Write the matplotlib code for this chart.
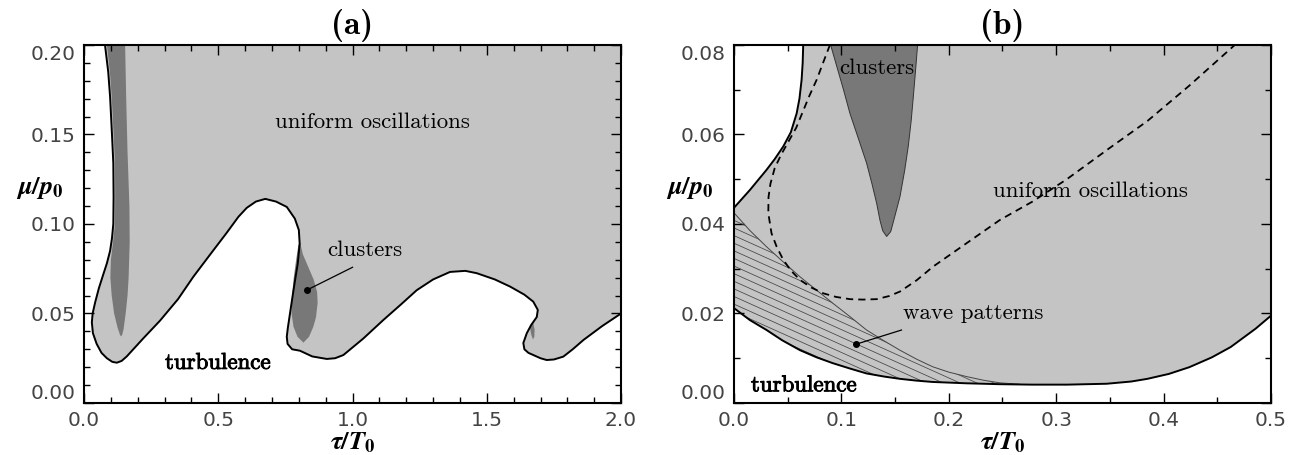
import numpy as np
import matplotlib.pyplot as plt
import matplotlib.patheffects as pe
from matplotlib.patches import Polygon
from matplotlib.ticker import MultipleLocator, FormatStrFormatter

plt.rcParams['mathtext.fontset'] = 'custom'
plt.rcParams['mathtext.it'] = 'STIXGeneral:italic:bold'
plt.rcParams['mathtext.rm'] = 'STIXGeneral:bold'
plt.rcParams['mathtext.bf'] = 'STIXGeneral:bold'

LIGHT = '#c4c4c4'
DARK = '#787878'

# ---------- panel (a) ----------
A_XLIM = (0.0, 2.0)
A_YLIM = (0.0, 0.2)

# turbulence / oscillation boundary (top-left -> right edge)
a_bx = [0.078, 0.090, 0.097, 0.104, 0.109, 0.110, 0.109, 0.104, 0.097, 0.085,
        0.072, 0.055, 0.041, 0.032, 0.029, 0.033, 0.047, 0.065, 0.085, 0.105,
        0.122, 0.140, 0.159, 0.220, 0.283, 0.350, 0.407, 0.470, 0.531, 0.575,
        0.606, 0.640, 0.675, 0.715, 0.755, 0.785, 0.800, 0.803, 0.796, 0.786,
        0.776, 0.767, 0.759, 0.755, 0.758, 0.775, 0.804, 0.850, 0.904, 0.935,
        0.966, 1.040, 1.115, 1.180, 1.239, 1.300, 1.363, 1.420, 1.4625, 1.530,
        1.587, 1.640, 1.673, 1.690, 1.686, 1.665, 1.649, 1.636, 1.640, 1.655,
        1.673, 1.700, 1.723, 1.750, 1.785, 1.820, 1.860, 1.930, 2.000]
a_by = [0.200, 0.185, 0.171, 0.150, 0.134, 0.115, 0.100, 0.092, 0.085, 0.078,
        0.072, 0.064, 0.056, 0.050, 0.045, 0.039, 0.033, 0.028, 0.025, 0.023,
        0.0225, 0.0235, 0.026, 0.036, 0.046, 0.058, 0.0705, 0.083, 0.095, 0.104,
        0.109, 0.1125, 0.114, 0.1125, 0.1095, 0.103, 0.0966, 0.089, 0.078, 0.0687,
        0.059, 0.050, 0.042, 0.037, 0.033, 0.030, 0.0292, 0.026, 0.0246, 0.025,
        0.0268, 0.036, 0.0464, 0.055, 0.063, 0.069, 0.0732, 0.0738, 0.0725, 0.069,
        0.065, 0.0605, 0.0566, 0.052, 0.048, 0.0435, 0.039, 0.0335, 0.030, 0.028,
        0.0268, 0.025, 0.024, 0.0243, 0.0259, 0.030, 0.0352, 0.043, 0.050]

# cluster regions
a_c1x = [0.085, 0.096, 0.103, 0.110, 0.115, 0.116, 0.115, 0.108, 0.100, 0.098,
         0.103, 0.112, 0.125, 0.134, 0.138, 0.142, 0.147, 0.155, 0.162, 0.166,
         0.170, 0.169, 0.162, 0.157, 0.153]
a_c1y = [0.200, 0.185, 0.171, 0.150, 0.134, 0.115, 0.100, 0.090, 0.080, 0.070,
         0.060, 0.050, 0.042, 0.038, 0.0372, 0.038, 0.041, 0.050, 0.060, 0.070,
         0.090, 0.110, 0.140, 0.170, 0.200]
a_c2x = [0.804, 0.815, 0.835, 0.855, 0.868, 0.870, 0.864, 0.854, 0.838, 0.817,
         0.795, 0.780, 0.773, 0.775, 0.781, 0.790, 0.798]
a_c2y = [0.090, 0.083, 0.076, 0.069, 0.062, 0.056, 0.048, 0.0426, 0.037, 0.0337,
         0.037, 0.0426, 0.050, 0.060, 0.070, 0.080, 0.088]
a_c3x = [1.672, 1.678, 1.677, 1.672, 1.666, 1.660]
a_c3y = [0.0455, 0.041, 0.037, 0.0355, 0.038, 0.0425]

a_cl_dot = (0.829, 0.063)
a_cl_end = (1.000, 0.0758)
a_cl_text = (1.046, 0.0855)
a_uo_text = (1.073, 0.1567)
a_tu_text = (0.498, 0.0223)

# ---------- panel (b) ----------
B_XLIM = (0.0, 0.5)
B_YLIM = (0.0, 0.08)

b_ux = [0.0645, 0.0640, 0.0630, 0.0610, 0.0584, 0.0530, 0.0459, 0.0380, 0.0304,
        0.0149, 0.0]
b_uy = [0.080, 0.076, 0.0722, 0.068, 0.0647, 0.0605, 0.0573, 0.0545, 0.0521,
        0.0476, 0.0436]

b_lx = [0.0, 0.015, 0.0304, 0.045, 0.0615, 0.077, 0.092, 0.108, 0.1235, 0.140,
        0.1545, 0.170, 0.185, 0.2166, 0.2477, 0.278, 0.310, 0.347, 0.370, 0.385,
        0.405, 0.424, 0.445, 0.4625, 0.4857, 0.500]
b_ly = [0.0212, 0.0185, 0.0163, 0.0140, 0.0118, 0.0102, 0.0089, 0.0077, 0.0066,
        0.0059, 0.0054, 0.0050, 0.0047, 0.0044, 0.0042, 0.0041, 0.0041, 0.0043,
        0.0048, 0.0054, 0.0065, 0.0080, 0.0102, 0.0125, 0.0166, 0.0195]

# upper edge of wave pattern region
b_hx = [0.0, 0.015, 0.0304, 0.046, 0.0615, 0.077, 0.092, 0.108, 0.1235, 0.139,
        0.1545, 0.170, 0.185, 0.200, 0.2166, 0.232, 0.2477, 0.266]
b_hy = [0.0425, 0.0385, 0.0349, 0.0315, 0.0282, 0.0252, 0.0223, 0.0193, 0.0163,
        0.0140, 0.0118, 0.0098, 0.0081, 0.0069, 0.0059, 0.0051, 0.0045, 0.0042]

# dashed curve
b_dx = [0.0894, 0.083, 0.077, 0.070, 0.064, 0.058, 0.051, 0.044, 0.038, 0.034,
        0.0322, 0.032, 0.035, 0.0398, 0.0459, 0.053, 0.0615, 0.072, 0.0832,
        0.095, 0.108, 0.120, 0.1329, 0.1446, 0.1546, 0.170, 0.1856, 0.2166,
        0.2477, 0.278, 0.310, 0.350, 0.385, 0.424, 0.4664]
b_dy = [0.080, 0.076, 0.0722, 0.0685, 0.065, 0.0615, 0.0585, 0.0555, 0.0525,
        0.049, 0.046, 0.0424, 0.0379, 0.0349, 0.032, 0.0296, 0.0275, 0.0258,
        0.0245, 0.0237, 0.0232, 0.0231, 0.0232, 0.0239, 0.0249, 0.0274, 0.0305,
        0.0357, 0.0409, 0.045, 0.050, 0.057, 0.063, 0.0709, 0.080]

# cluster region
b_cx = [0.090, 0.096, 0.102, 0.108, 0.116, 0.1235, 0.1285, 0.1329, 0.136, 0.1385,
        0.1422, 0.146, 0.149, 0.1546, 0.159, 0.1623, 0.165, 0.167, 0.169, 0.171]
b_cy = [0.080, 0.075, 0.070, 0.0647, 0.059, 0.0536, 0.049, 0.0446, 0.0408, 0.0385,
        0.0372, 0.0383, 0.041, 0.0461, 0.052, 0.0573, 0.063, 0.0684, 0.074, 0.080]

b_wp_dot = (0.1133, 0.0131)
b_wp_end = (0.156, 0.0163)
b_wp_text = (0.157, 0.020)
b_cl_text = (0.1333, 0.0747)
b_uo_text = (0.332, 0.0473)
b_tu_text = (0.065, 0.0039)

fig = plt.figure(figsize=(12.99, 4.55), dpi=100)
ax1 = fig.add_axes([0.0647, 0.1143, 0.4134, 0.787])
ax2 = fig.add_axes([0.565, 0.1143, 0.4134, 0.787])

txt = dict(fontfamily='cmr10', fontsize=16.5, color='black')
bold_fx = [pe.withStroke(linewidth=0.7, foreground='black')]

# panel (a)
ax1.fill(np.append(a_bx, A_XLIM[1]), np.append(a_by, A_YLIM[1]), color=LIGHT, lw=0)
ax1.fill(a_c1x, a_c1y, color=DARK, lw=0)
ax1.fill(a_c2x, a_c2y, color=DARK, lw=0)
ax1.fill(a_c3x, a_c3y, color=DARK, lw=0)
ax1.plot(a_bx, a_by, color='black', lw=1.4)
ax1.plot(*a_cl_dot, 'o', color='black', ms=4)
ax1.plot([a_cl_dot[0], a_cl_end[0]], [a_cl_dot[1], a_cl_end[1]], color='black', lw=0.9)
ax1.text(*a_cl_text, 'clusters', ha='center', va='center', **txt)
ax1.text(*a_uo_text, 'uniform oscillations', ha='center', va='center', **txt)
ax1.text(*a_tu_text, 'turbulence', ha='center', va='center', path_effects=bold_fx, **txt)

# panel (b)
ax2.fill(np.concatenate([b_ux, b_lx, [B_XLIM[1]]]),
         np.concatenate([b_uy, b_ly, [B_YLIM[1]]]), color=LIGHT, lw=0)
keep = np.array(b_lx) <= b_hx[-1]
hx = np.concatenate([b_hx, np.array(b_lx)[keep][::-1]])
hy = np.concatenate([b_hy, np.array(b_ly)[keep][::-1]])
hpatch = Polygon(np.column_stack([hx, hy]), closed=True, facecolor='none', edgecolor='none')
ax2.add_patch(hpatch)
slope = -0.108
xs = np.array([-0.05, 0.35])
for c in np.arange(0.0, 0.08, 0.0017):
    ln, = ax2.plot(xs, c + slope * xs, color='#444444', lw=0.55)
    ln.set_clip_path(hpatch)
ax2.plot(b_hx, b_hy, color='#444444', lw=0.7)
ax2.fill(b_cx, b_cy, facecolor=DARK, edgecolor='#333333', lw=0.7)
ax2.plot(b_ux, b_uy, color='black', lw=1.4)
ax2.plot(b_lx, b_ly, color='black', lw=1.4)
ax2.plot(b_dx, b_dy, color='black', lw=1.3, ls='--', dashes=(4, 2.8))
ax2.plot(*b_wp_dot, 'o', color='black', ms=4)
ax2.plot([b_wp_dot[0], b_wp_end[0]], [b_wp_dot[1], b_wp_end[1]], color='black', lw=0.9)
ax2.text(*b_wp_text, 'wave patterns', ha='left', va='center', **txt)
ax2.text(*b_cl_text, 'clusters', ha='center', va='center', **txt)
ax2.text(*b_uo_text, 'uniform oscillations', ha='center', va='center', **txt)
ax2.text(*b_tu_text, 'turbulence', ha='center', va='center', path_effects=bold_fx, **txt)

for ax, title, xlim, ylim, xmaj, xmin, ymaj, ymin in [
        (ax1, '(a)', A_XLIM, A_YLIM, 0.5, 0.1, 0.05, 0.01),
        (ax2, '(b)', B_XLIM, B_YLIM, 0.1, 0.05, 0.02, 0.01)]:
    ax.set_xlim(*xlim)
    ax.set_ylim(*ylim)
    ax.xaxis.set_major_locator(MultipleLocator(xmaj))
    ax.xaxis.set_minor_locator(MultipleLocator(xmin))
    ax.yaxis.set_major_locator(MultipleLocator(ymaj))
    ax.yaxis.set_minor_locator(MultipleLocator(ymin))
    ax.xaxis.set_major_formatter(FormatStrFormatter('%.1f'))
    ax.yaxis.set_major_formatter(FormatStrFormatter('%.2f'))
    ax.tick_params(which='both', direction='in', top=True, right=True,
                   labelsize=14.5, labelcolor='#444444', pad=6, width=1)
    ax.tick_params(which='major', length=7)
    ax.tick_params(which='minor', length=4)
    for s in ax.spines.values():
        s.set_linewidth(1.5)
    ax.set_title(title, family=['cmb10', 'DejaVu Serif'], fontweight='bold',
                 fontsize=24, pad=8)
    ax.set_xlabel(r'$\tau/T_0$', fontsize=19, labelpad=-1)
    ax.set_ylabel(r'$\mu/p_0$', fontsize=19, rotation=0, ha='center', va='center')
    ax.yaxis.set_label_coords(-0.082, 0.6)

fig.canvas.draw()
for ax in (ax1, ax2):
    lo, hi = ax.get_ylim()
    for t in ax.yaxis.get_major_ticks():
        if abs(t.get_loc() - lo) < 1e-9:
            t.label1.set_va('bottom')
        elif abs(t.get_loc() - hi) < 1e-9:
            t.label1.set_va('top')

fig.savefig('out.png', dpi=100)
